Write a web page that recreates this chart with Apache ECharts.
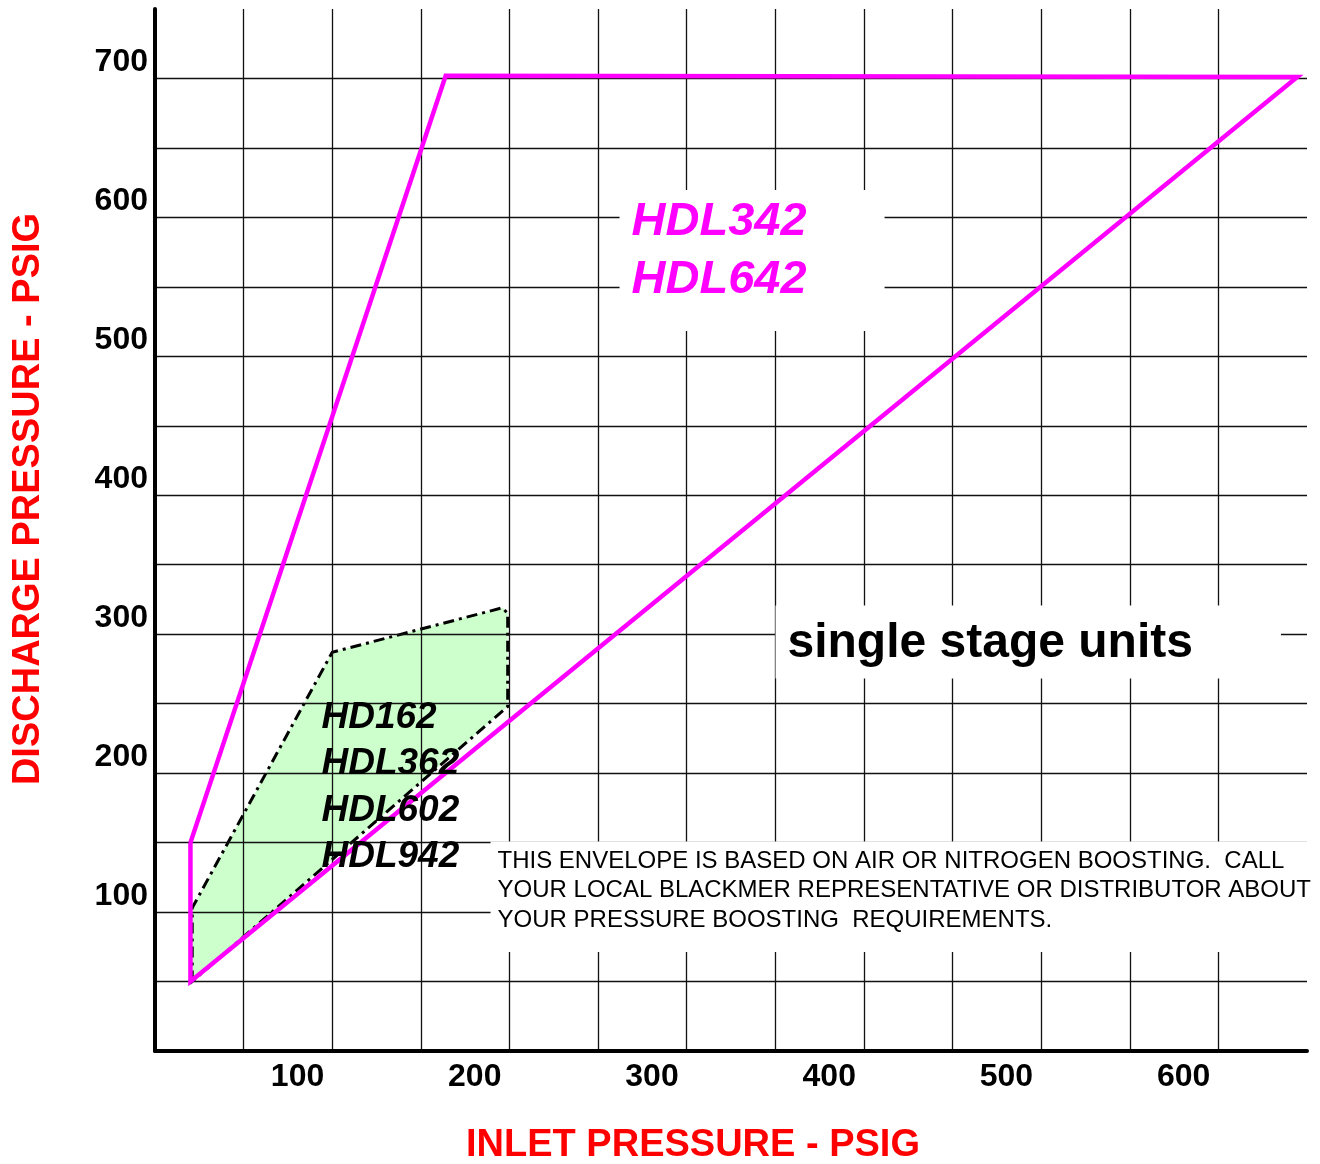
<!DOCTYPE html>
<html>
<head>
<meta charset="utf-8">
<title>Pressure envelope</title>
<script src="https://cdn.jsdelivr.net/npm/echarts@6/dist/echarts.min.js"></script>
<style>
  html, body { margin: 0; padding: 0; background: #fff; }
  #chart { width: 1320px; height: 1164px; }
</style>
</head>
<body>
<div id="chart"></div>
<script>
// axis ranges / tick labels
const xTickLabels = [100, 200, 300, 400, 500, 600];
const yTickLabels = [100, 200, 300, 400, 500, 600, 700];

// HDL342 / HDL642 envelope (magenta outline)
const pinkX = [20, 164, 644.5, 20, 20];
const pinkY = [150, 702, 701, 50, 150];

// HD162 / HDL362 / HDL602 / HDL942 envelope (green area)
const greenX = [21, 21, 100, 196, 199, 199, 21];
const greenY = [50, 103, 287, 319, 315, 248, 50];

// texts
const bigModels = ["HDL342", "HDL642"];
const smallModels = ["HD162", "HDL362", "HDL602", "HDL942"];
const stageText = "single stage units";
const noteLines = [
  "THIS ENVELOPE IS BASED ON AIR OR NITROGEN BOOSTING.  CALL",
  "YOUR LOCAL BLACKMER REPRESENTATIVE OR DISTRIBUTOR ABOUT",
  "YOUR PRESSURE BOOSTING  REQUIREMENTS."
];

const FONT = "'Liberation Sans', Arial, Helvetica, sans-serif";

const chart = echarts.init(document.getElementById("chart"));

// common label settings for the text boxes
const boxLabel = (text, extra) => Object.assign({
  show: true,
  position: [0, 0],
  align: "left",
  verticalAlign: "top",
  fontFamily: FONT,
  formatter: text
}, extra);

const option = {
  backgroundColor: "#fff",
  animation: false,
  grid: { left: 155, right: 13, top: 9, bottom: 113, containLabel: false, outerBoundsMode: "none" },
  xAxis: {
    type: "value",
    min: 0,
    max: 650,
    interval: 50,
    z: 3,
    name: "INLET PRESSURE - PSIG",
    nameLocation: "middle",
    nameGap: 76,
    nameTextStyle: {
      color: "#ff0000",
      fontFamily: FONT,
      fontWeight: "bold",
      fontSize: 38,
      padding: [0, 76, 0, 0]
    },
    axisLine: { show: true, onZero: false, lineStyle: { color: "#000", width: 4 } },
    axisTick: { show: false },
    splitLine: { show: true, showMaxLine: false, showMinLine: false, lineStyle: { color: "#111", width: 1.3 } },
    axisLabel: {
      margin: 10,
      align: "right",
      padding: [0, 8, 0, 0],
      color: "#000",
      fontFamily: FONT,
      fontWeight: "bold",
      fontSize: 32,
      formatter: (v) => (xTickLabels.includes(v) ? String(v) : "")
    }
  },
  yAxis: {
    type: "value",
    min: 0,
    max: 750,
    interval: 50,
    z: 3,
    name: "DISCHARGE PRESSURE - PSIG",
    nameLocation: "middle",
    nameGap: 107,
    nameTextStyle: {
      color: "#ff0000",
      fontFamily: FONT,
      fontWeight: "bold",
      fontSize: 38,
      padding: [0, 0, 0, 62]
    },
    axisLine: { show: true, onZero: false, lineStyle: { color: "#000", width: 4 } },
    axisTick: { show: false },
    splitLine: { show: true, showMaxLine: false, showMinLine: false, lineStyle: { color: "#111", width: 1.3 } },
    axisLabel: {
      margin: 7,
      verticalAlign: "bottom",
      padding: [0, 0, 0, 0],
      color: "#000",
      fontFamily: FONT,
      fontWeight: "bold",
      fontSize: 32,
      formatter: (v) => (yTickLabels.includes(v) ? String(v) : "")
    }
  },
  series: [
    {
      // green envelope drawn as a polygon through the axes' scales
      type: "custom",
      z: 1,
      silent: true,
      data: greenX.map((x, i) => [x, greenY[i]]),
      renderItem: (params, api) => {
        if (params.dataIndex !== 0) return;
        const pts = greenX.map((x, i) => api.coord([x, greenY[i]]));
        return {
          type: "polygon",
          shape: { points: pts },
          style: {
            fill: "#ccffcc",
            stroke: "#000",
            lineWidth: 3,
            lineDash: [11, 5, 3, 5]
          }
        };
      }
    },
    {
      type: "line",
      z: 4,
      silent: true,
      symbol: "none",
      data: pinkX.map((x, i) => [x, pinkY[i]]),
      lineStyle: { color: "#ff00ff", width: 4.5, join: "miter" }
    },
    {
      // text annotations, anchored at data coordinates (top-left of each box)
      type: "scatter",
      z: 5,
      silent: true,
      symbolSize: 1,
      itemStyle: { color: "rgba(0,0,0,0)", opacity: 1 },
      data: [
        {
          value: [262.4, 619.3],
          label: boxLabel(bigModels.join("\n"), {
            color: "#ff00ff",
            fontSize: 47,
            fontWeight: "bold",
            fontStyle: "italic",
            lineHeight: 58,
            backgroundColor: "#fff",
            padding: [3, 78, 22, 12]
          })
        },
        {
          value: [350.4, 320.3],
          label: boxLabel(stageText, {
            color: "#000",
            fontSize: 48,
            fontWeight: "bold",
            lineHeight: 50,
            backgroundColor: "#fff",
            padding: [13, 88, 10, 12]
          })
        },
        {
          value: [189.6, 150.4],
          label: boxLabel(noteLines.join("\n"), {
            color: "#000",
            fontSize: 24,
            lineHeight: 29.5,
            backgroundColor: "#fff",
            padding: [5, 14, 17, 7]
          })
        },
        {
          value: [94.2, 256.5],
          label: boxLabel(smallModels.join("\n"), {
            color: "#000",
            fontSize: 37,
            fontWeight: "bold",
            fontStyle: "italic",
            lineHeight: 46.5
          })
        }
      ]
    }
  ]
};

chart.setOption(option);
window.addEventListener("resize", () => chart.resize());
</script>
</body>
</html>
